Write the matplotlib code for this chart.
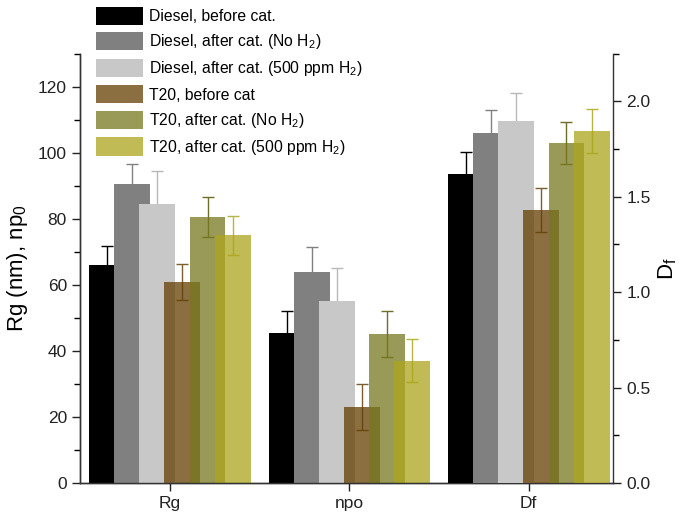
import numpy as np
from matplotlib import pyplot as plt
from matplotlib.ticker import MultipleLocator

plt.rcParams['font.family'] = ['Liberation Sans', 'DejaVu Sans']

groups = ['Rg', 'npo', 'Df']
labels = ['Diesel, before cat.',
          'Diesel, after cat. (No H$_\\mathregular{2}$)',
          'Diesel, after cat. (500 ppm H$_\\mathregular{2}$)',
          'T20, before cat',
          'T20, after cat. (No H$_\\mathregular{2}$)',
          'T20, after cat. (500 ppm H$_\\mathregular{2}$)']

# values per series: [Rg (nm), np0, Df]
diesel_before = [66, 45.3, 1.62]
diesel_noh2 = [90.5, 64, 1.835]
diesel_h2 = [84.5, 55, 1.90]
t20_before = [60.8, 23, 1.43]
t20_noh2 = [80.5, 45, 1.78]
t20_h2 = [75, 37, 1.845]

err_diesel_before = [5.8, 6.7, 0.115]
err_diesel_noh2 = [6, 7.5, 0.12]
err_diesel_h2 = [10, 10, 0.145]
err_t20_before = [5.5, 7, 0.115]
err_t20_noh2 = [6, 7, 0.11]
err_t20_h2 = [6, 6.5, 0.115]

values = [diesel_before, diesel_noh2, diesel_h2, t20_before, t20_noh2, t20_h2]
errors = [err_diesel_before, err_diesel_noh2, err_diesel_h2,
          err_t20_before, err_t20_noh2, err_t20_h2]
colors = ['#000000', '#808080', '#c8c8c8', '#643f00', '#787820', '#aba51c']
alphas = [1, 1, 1, 0.75, 0.75, 0.75]
ecolors = ['#000000', '#808080', '#b8b8b8', '#7a6030', '#6e6e28', '#b8b440']

fig = plt.figure(figsize=(6.79, 5.17), dpi=100)
ax = fig.add_axes([0.118, 0.066, 0.785, 0.830])
ax2 = ax.twinx()

x = np.arange(len(groups))
width = 0.2
step = 0.14
handles = []
for i in range(6):
    off = (i - 2.5) * step
    v = values[i]
    e = errors[i]
    b = ax.bar(x[:2] + off, v[:2], width, color=colors[i], alpha=alphas[i],
               zorder=3 + i, linewidth=0)
    ax.errorbar(x[:2] + off, v[:2], yerr=e[:2], fmt='none', ecolor=ecolors[i],
                elinewidth=1, capsize=4, capthick=1, zorder=2)
    ax2.bar(x[2] + off, v[2], width, color=colors[i], alpha=alphas[i],
            zorder=3 + i, linewidth=0)
    ax2.errorbar(x[2] + off, v[2], yerr=e[2], fmt='none', ecolor=ecolors[i],
                 elinewidth=1, capsize=4, capthick=1, zorder=2)
    handles.append(b)

ax.set_xlim(-0.5, 2.47)
ax.set_ylim(0, 130)
ax2.set_ylim(0, 2.25)
ax.set_xticks(x)
ax.set_xticklabels(groups)
ax.yaxis.set_major_locator(MultipleLocator(20))
ax.yaxis.set_minor_locator(MultipleLocator(10))
ax2.yaxis.set_major_locator(MultipleLocator(0.5))
ax2.yaxis.set_minor_locator(MultipleLocator(0.25))
ax.tick_params(axis='y', labelsize=12.5, length=6, width=1, colors='#222222')
ax.tick_params(axis='y', which='minor', length=4, width=1)
ax.tick_params(axis='x', labelsize=12.5, length=6, width=1, colors='#222222')
ax2.tick_params(axis='y', labelsize=12.5, length=6, width=1, colors='#222222')
ax2.tick_params(axis='y', which='minor', length=4, width=1)

for a in (ax, ax2):
    a.spines['top'].set_visible(False)
    for s in a.spines.values():
        s.set_color('#333333')
        s.set_linewidth(1)
ax.spines['right'].set_visible(False)

ax.set_ylabel('Rg (nm), np$_\\mathregular{0}$', fontsize=16, labelpad=6)
ax2.set_ylabel('D$_\\mathregular{f}$', fontsize=16, labelpad=4)

fig.legend(handles, labels, loc='upper left', bbox_to_anchor=(0.135, 0.995),
           frameon=False, fontsize=11.3, handlelength=3.0, handleheight=1.4,
           labelspacing=0.47, handletextpad=0.4, borderpad=0.25, borderaxespad=0)

plt.savefig('out.png', dpi=100)
